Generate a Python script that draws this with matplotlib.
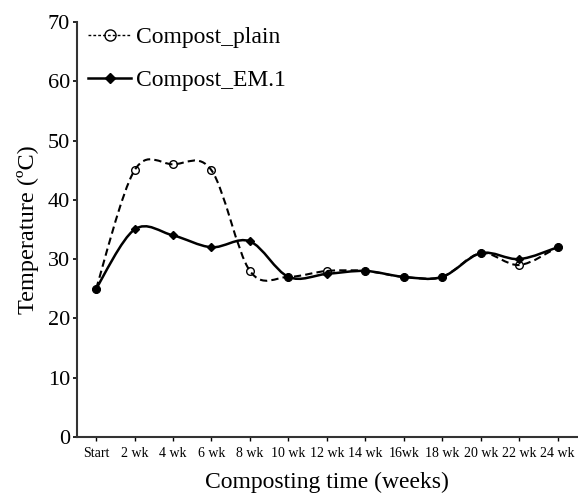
import matplotlib
matplotlib.use("Agg")
import matplotlib.pyplot as plt
from matplotlib.path import Path
from matplotlib.patches import PathPatch
from matplotlib.lines import Line2D

weeks = ["Start", "2 wk", "4 wk", "6 wk", "8 wk", "10 wk", "12 wk",
         "14 wk", "16wk", "18 wk", "20 wk", "22 wk", "24 wk"]
compost_plain = [25, 45, 46, 45, 28, 27, 28, 28, 27, 27, 31, 29, 32]
compost_em1 = [25, 35, 34, 32, 33, 27, 27.5, 28, 27, 27, 31, 30, 32]

plt.rcParams["font.family"] = ["Liberation Serif", "DejaVu Serif"]


def smooth_path(xs, ys):
    # Excel-style smoothed line: Catmull-Rom tangents as cubic Bezier
    n = len(xs)
    verts = [(xs[0], ys[0])]
    codes = [Path.MOVETO]
    for i in range(n - 1):
        x0, y0 = (xs[i - 1], ys[i - 1]) if i > 0 else (xs[i], ys[i])
        x1, y1 = xs[i], ys[i]
        x2, y2 = xs[i + 1], ys[i + 1]
        x3, y3 = (xs[i + 2], ys[i + 2]) if i + 2 < n else (x2, y2)
        c1 = (x1 + (x2 - x0) / 6, y1 + (y2 - y0) / 6)
        c2 = (x2 - (x3 - x1) / 6, y2 - (y3 - y1) / 6)
        verts += [c1, c2, (x2, y2)]
        codes += [Path.CURVE4] * 3
    return Path(verts, codes)


fig = plt.figure(figsize=(5.78, 4.93), dpi=100)
ax = fig.add_axes([0.133, 0.114, 0.865, 0.841])

x = list(range(len(weeks)))

ax.add_patch(PathPatch(smooth_path(x, compost_plain), fill=False,
                       edgecolor="black", lw=1.5, linestyle=(0, (3.5, 2))))
ax.plot(x, compost_plain, linestyle="none", marker="o", ms=5.5,
        mfc="none", mec="black", mew=1.0)

ax.add_patch(PathPatch(smooth_path(x, compost_em1), fill=False,
                       edgecolor="black", lw=1.8))
ax.plot(x, compost_em1, linestyle="none", marker="D", ms=4.5,
        color="black")

ax.set_xlim(-0.5, len(weeks) - 0.5)
ax.set_ylim(0, 70)
ax.set_yticks(range(0, 71, 10))
ax.set_xticks(x)
ax.set_xticklabels(weeks, fontsize=10)
ax.tick_params(axis="y", labelsize=16, length=3, width=1.2, pad=2)
ax.tick_params(axis="x", length=3, width=1.0, pad=4)

for side in ["top", "right"]:
    ax.spines[side].set_visible(False)
for side in ["left", "bottom"]:
    ax.spines[side].set_linewidth(1.5)
    ax.spines[side].set_color("#333333")

ax.set_xlabel("Composting time (weeks)", fontsize=17, labelpad=9)
ax.set_ylabel("Temperature (ºC)", fontsize=17.5, labelpad=6)

handles = [
    Line2D([], [], color="black", lw=1.0, linestyle=(0, (2, 1.5)),
           marker="o", ms=8, mfc="none", mec="black", mew=1.0),
    Line2D([], [], color="black", lw=1.8, marker="D", ms=5.5),
]
ax.legend(handles, ["Compost_plain", "Compost_EM.1"], loc="upper left",
          bbox_to_anchor=(-0.01, 1.03), frameon=False, fontsize=17,
          handlelength=1.8, handletextpad=0.2, labelspacing=0.92,
          borderaxespad=0.3)

fig.savefig("out.png", dpi=100)
plt.close(fig)
